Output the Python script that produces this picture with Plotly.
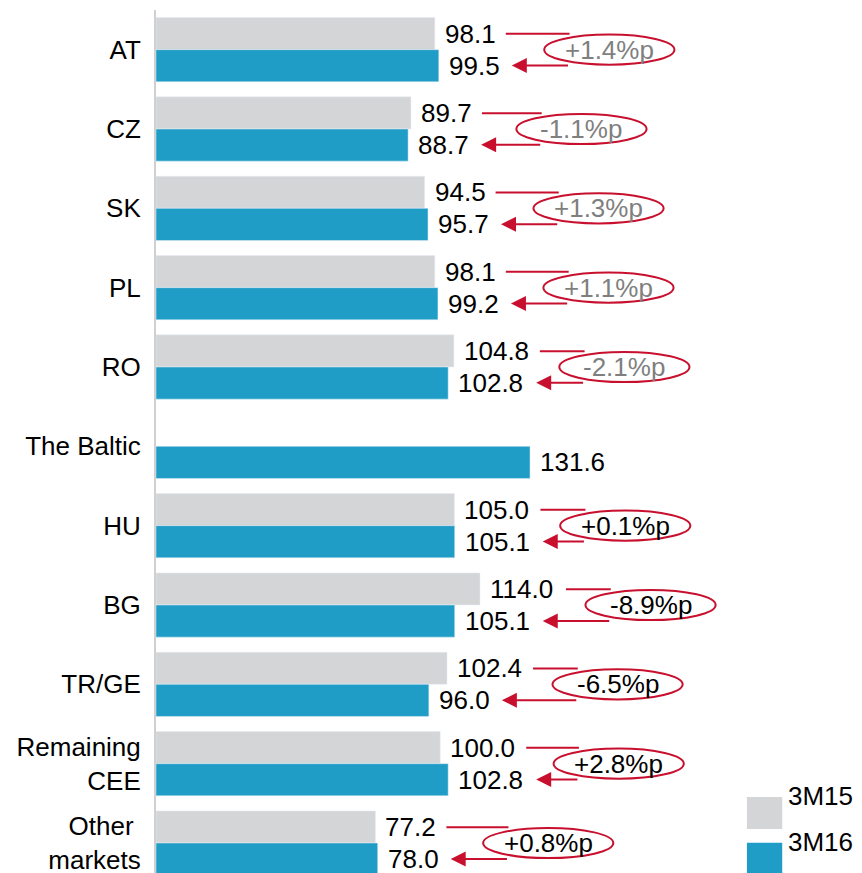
import plotly.graph_objects as go

# categories, top to bottom
markets = ["AT", "CZ", "SK", "PL", "RO", "The Baltic", "HU", "BG", "TR/GE",
           "Remaining<br>CEE", "Other <br>markets"]
v_3m15 = [98.1, 89.7, 94.5, 98.1, 104.8, None, 105.0, 114.0, 102.4, 100.0, 77.2]
v_3m16 = [99.5, 88.7, 95.7, 99.2, 102.8, 131.6, 105.1, 105.1, 96.0, 102.8, 78.0]
deltas = ["+1.4%p", "-1.1%p", "+1.3%p", "+1.1%p", "-2.1%p", None,
          "+0.1%p", "-8.9%p", "-6.5%p", "+2.8%p", "+0.8%p"]
delta_grey = [True, True, True, True, True, False, False, False, False, False, False]

GREY = "#D4D5D7"
BLUE = "#1F9DC6"
RED = "#C8102E"
FONT = "Liberation Sans, Arial, sans-serif"
FS = 26
PX = 2.842          # pixels per data unit on the x axis

pos = list(range(len(markets)))

fig = go.Figure()
fig.add_trace(go.Bar(y=pos, x=v_3m15, orientation="h", marker_color=GREY,
                     name="3M15", showlegend=False))
fig.add_trace(go.Bar(y=pos, x=v_3m16, orientation="h", marker_color=BLUE,
                     name="3M16", showlegend=False))

def label_w(v):
    return 51 if v < 100 else 66   # approx label width in px

ann = []
shapes = []
for i in pos:
    a, b = v_3m15[i], v_3m16[i]
    if a is not None:
        ann.append(dict(x=a, y=i - 0.2, text=f"{a:.1f}", showarrow=False,
                        xanchor="left", xshift=8, font=dict(size=FS, color="black")))
    ann.append(dict(x=b, y=i + 0.2, text=f"{b:.1f}", showarrow=False,
                    xanchor="left", xshift=8, font=dict(size=FS, color="black")))
    if deltas[i] is None:
        continue
    cx = max(a, b) + 60
    start = a + (20 + label_w(a)) / PX
    tip = b + (22 + label_w(b)) / PX
    end = cx - 14
    shapes.append(dict(type="line", x0=start, x1=end, y0=i - 0.2, y1=i - 0.2,
                       line=dict(color=RED, width=2)))
    ann.append(dict(x=tip, y=i + 0.2, ax=end, ay=i + 0.2, axref="x", ayref="y",
                    text="", showarrow=True, arrowhead=2, arrowsize=1.5,
                    arrowwidth=2, arrowcolor=RED, standoff=0))
    shapes.append(dict(type="circle", x0=cx - 22.9, x1=cx + 22.9,
                       y0=i - 0.19, y1=i + 0.19, fillcolor="white",
                       line=dict(color=RED, width=2)))
    ann.append(dict(x=cx, y=i, text=deltas[i], showarrow=False,
                    font=dict(size=FS, color="#7F7F7F" if delta_grey[i] else "black")))

# legend drawn by hand (large swatches)
shapes.append(dict(type="rect", xref="paper", yref="paper", x0=0.837, x1=0.887,
                   y0=0.051, y1=0.088, fillcolor=GREY, line_width=0))
shapes.append(dict(type="rect", xref="paper", yref="paper", x0=0.837, x1=0.887,
                   y0=-0.003, y1=0.035, fillcolor=BLUE, line_width=0))
ann.append(dict(xref="paper", yref="paper", x=0.893, y=0.0695, text="3M15",
                showarrow=False, xanchor="left", font=dict(size=FS, color="black")))
ann.append(dict(xref="paper", yref="paper", x=0.893, y=0.016, text="3M16",
                showarrow=False, xanchor="left", font=dict(size=FS, color="black")))

# page body has an 8px margin, so the figure is 8px smaller than the window
fig.update_layout(
    width=854, height=865,
    margin=dict(l=148, r=0, t=2, b=0, autoexpand=False),
    plot_bgcolor="white", paper_bgcolor="white",
    barmode="group", bargap=0.19, bargroupgap=0,
    font=dict(family=FONT, size=FS, color="black"),
    shapes=shapes, annotations=ann, showlegend=False,
    xaxis=dict(range=[0, 248.4], visible=False, automargin=False),
    yaxis=dict(range=[10.378, -0.5], tickvals=pos, ticktext=markets,
               showgrid=False, zeroline=False,
               showline=True, linecolor="#D0D0D0", linewidth=2,
               ticks="", ticklabelstandoff=8, automargin=False,
               ticklabeloverflow="allow",
               tickfont=dict(size=FS, color="black")),
)

fig.write_html("out.html")
